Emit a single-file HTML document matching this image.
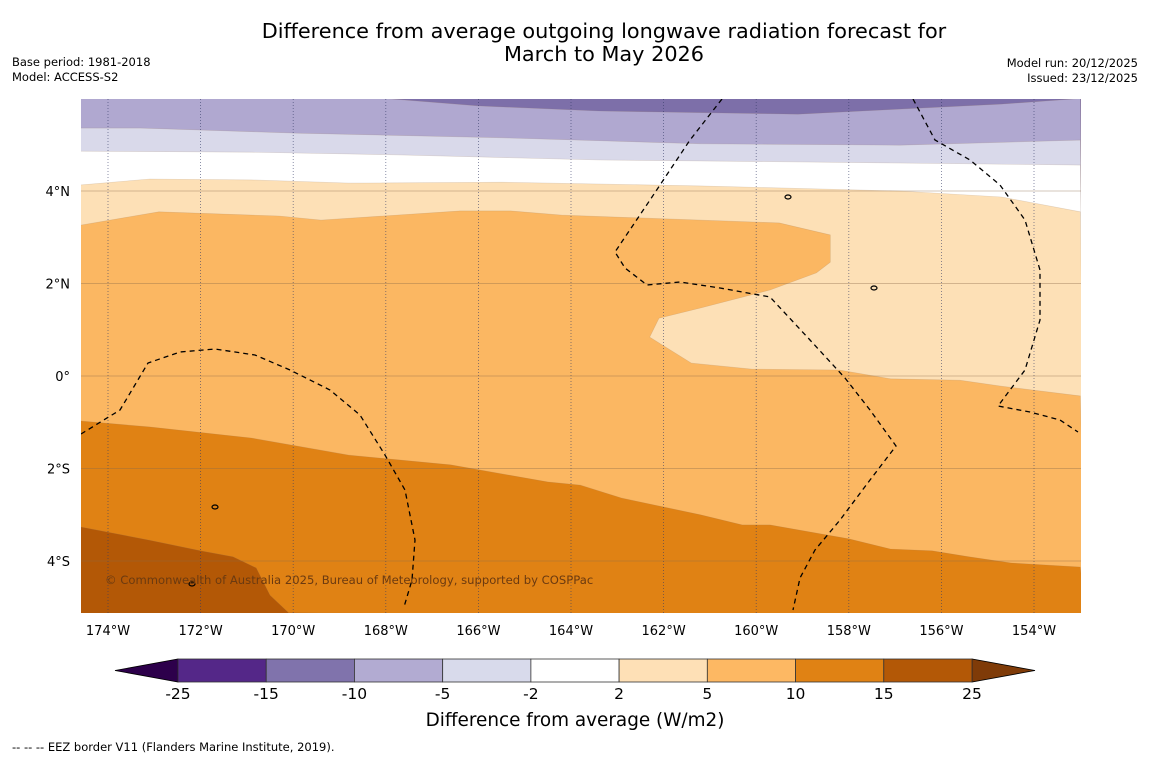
<!DOCTYPE html>
<html><head><meta charset="utf-8">
<style>
body{margin:0;background:#fff;width:1150px;height:758px;overflow:hidden;font-family:"DejaVu Sans","Liberation Sans",sans-serif;}
svg text{font-family:"DejaVu Sans","Liberation Sans",sans-serif;}
</style></head>
<body>
<svg id="chart" width="1150" height="758" viewBox="0 0 1150 758" xmlns="http://www.w3.org/2000/svg">
<text x="604" y="38" font-size="20.8" text-anchor="middle">Difference from average outgoing longwave radiation forecast for</text>
<text x="604" y="61" font-size="20.8" text-anchor="middle">March to May 2026</text>
<text x="12" y="66" font-size="11.5">Base period: 1981-2018</text>
<text x="12" y="81" font-size="11.5">Model: ACCESS-S2</text>
<text x="1138" y="67" font-size="11.5" text-anchor="end">Model run: 20/12/2025</text>
<text x="1138" y="82" font-size="11.5" text-anchor="end">Issued: 23/12/2025</text>
<defs><clipPath id="mapclip"><rect x="81" y="99" width="1000" height="514"/></clipPath></defs>
<g id="map" clip-path="url(#mapclip)"></g>
<g id="axes"></g>
<g id="cbar"></g>
<text x="575" y="726" font-size="18.4" text-anchor="middle">Difference from average (W/m2)</text>
<text x="12" y="751" font-size="11.5">--  --  -- EEZ border V11 (Flanders Marine Institute, 2019).</text>
</svg>
<script>
// Map extent and axes
const lonTicks=[-174,-172,-170,-168,-166,-164,-162,-160,-158,-156,-154];
const latTicks=[4,2,0,-2,-4];
const lonMin=-174.6, lonMax=-153.0, latMin=-5.12, latMax=6.0;
// Contour boundaries [lon, lat]
const c_m10=[[-174.6,6.0],[-168.0,6.0],[-166.0,5.84],[-163.4,5.73],[-159.1,5.66],[-154.7,5.88],[-153.0,6.0]];
const c_m5=[[-174.6,5.36],[-173.3,5.36],[-169.9,5.25],[-165.5,5.15],[-161.2,5.02],[-156.9,4.99],[-153.0,5.10]];
const c_m2=[[-174.6,4.86],[-170.9,4.84],[-167.7,4.78],[-163.4,4.67],[-159.1,4.63],[-153.0,4.56]];
const c_2=[[-174.6,4.13],[-173.1,4.26],[-170.9,4.24],[-168.8,4.17],[-165.5,4.19],[-161.2,4.11],[-156.9,4.0],[-154.7,3.87],[-153.0,3.55]];
const c_5=[[-174.6,3.26],[-172.9,3.55],[-170.3,3.46],[-169.4,3.37],[-166.4,3.57],[-165.3,3.57],[-164.2,3.48],[-159.5,3.31],[-158.4,3.05],[-158.4,2.46],[-158.7,2.23],[-159.7,1.86],[-161.2,1.47],[-162.1,1.25],[-162.3,0.84],[-161.4,0.28],[-160.1,0.15],[-158.2,0.13],[-157.1,-0.06],[-155.6,-0.09],[-154.7,-0.22],[-153.0,-0.43]];
const c_10=[[-174.6,-0.97],[-173.1,-1.10],[-170.9,-1.34],[-168.8,-1.71],[-166.6,-1.92],[-164.5,-2.29],[-163.8,-2.36],[-162.9,-2.64],[-161.2,-3.0],[-160.3,-3.22],[-159.7,-3.22],[-158.0,-3.52],[-157.1,-3.74],[-156.2,-3.78],[-155.4,-3.91],[-154.5,-4.04],[-153.0,-4.13]];
const c_15=[[-174.6,-3.26],[-173.1,-3.55],[-172.0,-3.78],[-171.3,-3.91],[-170.8,-4.15],[-170.5,-4.74],[-170.1,-5.12]];
const cbLevels=["-25","-15","-10","-5","-2","2","5","10","15","25"];
const cbColors=["#542788","#8073ac","#b2abd2","#d8daeb","#ffffff","#fee0b6","#fdb863","#e08214","#b35806"];

const X0=81,X1=1081,Y0=99,Y1=613;
function xS(lon){return 108+(lon+174)*46.3;}
function yS(lat){return 376-lat*46.25;}
const NS="http://www.w3.org/2000/svg";
function mk(tag,attrs,parent){const e=document.createElementNS(NS,tag);for(const k in attrs)e.setAttribute(k,attrs[k]);parent.appendChild(e);return e;}
const map=document.getElementById('map');
function pts(c){return c.map(p=>xS(p[0]).toFixed(1)+","+yS(p[1]).toFixed(1));}
function bandAbove(c){
  return "M"+pts(c).join(" L")+" L"+(X1+5)+","+(Y1+5)+" L"+(X0-5)+","+(Y1+5)+"Z";}
const bg=mk('rect',{x:X0,y:Y0,width:1000,height:514,fill:"#7d6fa9"},map);


const layers=[[c_m10,"#b0a8d0","band-minus10-minus5"],[c_m5,"#d9d9ea","band-minus5-minus2"],[c_m2,"#ffffff","band-minus2-2"],[c_2,"#fde0b6","band-2-5"],[c_5,"#fbb762","band-5-10"],[c_10,"#e08214","band-10-15"],[c_15,"#b35806","band-15-25"]];
layers.forEach(l=>{
  const p=mk('path',{d:bandAbove(l[0]),fill:l[1],stroke:"rgba(150,120,90,0.25)","stroke-width":0.6},map);
  
  
});
lonTicks.forEach(lon=>{
  const g=mk('line',{x1:xS(lon),x2:xS(lon),y1:Y0,y2:Y1,stroke:"#333a66","stroke-width":0.8,"stroke-dasharray":"1,2",opacity:0.7},map);
  
  
});
latTicks.forEach(lat=>{
  const g=mk('line',{x1:X0,x2:X1,y1:yS(lat),y2:yS(lat),stroke:"#8a6a4a","stroke-width":0.8,opacity:0.5},map);
  
  
});
const eez=["M81,434 L120,410 L148,363 L180,352 L215,349 L255,355 L290,370 L330,390 L360,415 L385,455 L405,490 L415,540 L412,580 L404,607",
"M722,99 L690,140 L650,200 L615,252 L625,268 L647,285 L680,282 L720,288 L770,297 L810,340 L845,378 L870,410 L896,446 L870,480 L840,520 L815,550 L800,578 L793,610",
"M913,99 L935,140 L970,160 L1000,185 L1025,220 L1040,270 L1040,320 L1025,370 L998,406 L1030,412 L1060,420 L1078,432"];
eez.forEach(d=>{
  const e=mk('path',{d:d,fill:"none",stroke:"#000","stroke-width":1.3,"stroke-dasharray":"5,4"},map);
  
  
});
[[788,197],[874,288],[215,507],[192,584]].forEach(p=>{
  const i=mk('ellipse',{cx:p[0],cy:p[1],rx:3,ry:2,fill:"none",stroke:"#000","stroke-width":1.2},map);
  
  
});
const cp=mk('text',{x:105,y:584,"font-size":11.6,fill:"#6b3a10"},map);
cp.textContent="© Commonwealth of Australia 2025, Bureau of Meteorology, supported by COSPPac";


const axes=document.getElementById('axes');
lonTicks.forEach(lon=>{
  const t=mk('text',{x:xS(lon),y:635,"font-size":13,"text-anchor":"middle"},axes);
  t.textContent=Math.abs(lon)+"°W";
  
  
});
latTicks.forEach(lat=>{
  const t=mk('text',{x:70,y:yS(lat)+5,"font-size":13,"text-anchor":"end"},axes);
  t.textContent=lat===0?"0°":Math.abs(lat)+"°"+(lat>0?"N":"S");
  
  
});
const cb=document.getElementById('cbar');
const cbX0=178,cbX1=972,cbY=659,cbH=23,segW=(cbX1-cbX0)/cbColors.length;
const lt=mk('polygon',{points:`115,${cbY+cbH/2} ${cbX0},${cbY} ${cbX0},${cbY+cbH}`,fill:"#2d004b",stroke:"#000","stroke-width":0.8},cb);


const rt=mk('polygon',{points:`1035,${cbY+cbH/2} ${cbX1},${cbY} ${cbX1},${cbY+cbH}`,fill:"#7f3b08",stroke:"#000","stroke-width":0.8},cb);


cbColors.forEach((c,i)=>{
  const r=mk('rect',{x:cbX0+i*segW,y:cbY,width:segW,height:cbH,fill:c,stroke:"#333","stroke-width":0.8},cb);
  
  
});
cbLevels.forEach((lv,i)=>{
  const t=mk('text',{x:cbX0+i*segW,y:699,"font-size":15.5,"text-anchor":"middle"},cb);
  t.textContent=lv;
  
  
});
</script>
</body></html>
